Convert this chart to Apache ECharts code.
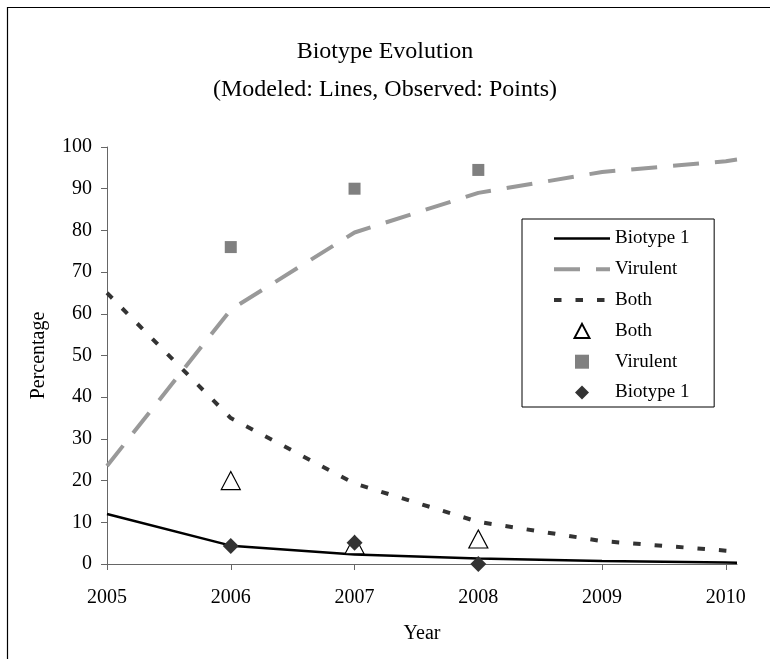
<!DOCTYPE html>
<html>
<head>
<meta charset="utf-8">
<script src="https://cdn.jsdelivr.net/npm/echarts@6/dist/echarts.min.js"></script>
<style>
html,body{margin:0;padding:0;background:#fff;}
#c{width:770px;height:659px;}
</style>
</head>
<body>
<div id="c"></div>
<script>
// Model (lines)
var modelYears = [2005, 2006, 2007, 2008, 2009, 2010, 2010.09];
var modelBiotype1 = [12, 4.4, 2.3, 1.3, 0.7, 0.35, 0.3];
var modelVirulent = [23.5, 61, 79.5, 89, 94, 96.6, 97];
var modelBoth = [65, 35, 19.3, 10.1, 5.5, 3.2, 3];
// Observed (points)
var obsYears = [2006, 2007, 2008];
var obsBoth = [20, 4.6, 6];
var obsVirulent = [76, 90, 94.5];
var obsBiotype1 = [4.3, 5.1, 0];
// Axis ticks
var xTicks = [2005, 2006, 2007, 2008, 2009, 2010];
var yTicks = [0, 10, 20, 30, 40, 50, 60, 70, 80, 90, 100];

function pairs(xs, ys) { return xs.map(function (x, i) { return [x, ys[i]]; }); }

var FONT = '"Liberation Serif", "DejaVu Serif", serif';
var hideSym = { opacity: 0 };
var chart = echarts.init(document.getElementById('c'), null, { renderer: 'canvas' });
chart.setOption({
  animation: false,
  backgroundColor: '#fff',
  graphic: [{
    type: 'polyline',
    shape: { points: [[7.5, 700], [7.5, 7.5], [800, 7.5]] },
    style: { stroke: '#000', lineWidth: 1.2, fill: null }
  }],
  title: {
    text: 'Biotype Evolution\n(Modeled: Lines, Observed: Points)',
    left: 'center',
    top: 28,
    textStyle: { fontFamily: FONT, fontSize: 24, fontWeight: 'normal', color: '#000', lineHeight: 38 }
  },
  legend: {
    orient: 'vertical',
    left: 522,
    top: 219,
    padding: [10, 20, 5, 30],
    itemWidth: 56,
    itemHeight: 14,
    itemGap: 11.8,
    borderColor: '#000',
    borderWidth: 1,
    selectedMode: false,
    symbolKeepAspect: true,
    textStyle: { fontFamily: FONT, fontSize: 19, color: '#000' },
    data: [
      { name: 'Biotype 1', itemStyle: hideSym, lineStyle: { width: 2.5 } },
      { name: 'Virulent', itemStyle: hideSym, lineStyle: { width: 4 } },
      { name: 'Both', itemStyle: hideSym, lineStyle: { width: 4 } },
      { name: 'Both ', icon: 'path://M5,0L10,9.4L0,9.4Z' },
      { name: 'Virulent ', icon: 'path://M0,0H10V10H0Z' },
      { name: 'Biotype 1 ', icon: 'path://M5,0L10,5L5,10L0,5Z' }
    ]
  },
  grid: { left: 107, right: 33, top: 147, bottom: 95 },
  xAxis: {
    type: 'value',
    min: 2005,
    max: 2010.09,
    interval: 1,
    name: 'Year',
    nameLocation: 'middle',
    nameGap: 60,
    nameTextStyle: { fontFamily: FONT, fontSize: 20, color: '#000' },
    axisLine: { lineStyle: { color: '#666', width: 1 } },
    axisTick: { show: true, length: 6, lineStyle: { color: '#666' }, customValues: xTicks },
    axisLabel: { margin: 24, fontFamily: FONT, fontSize: 20, color: '#000', customValues: xTicks,
      formatter: function (v) { return String(Math.round(v)); } },
    splitLine: { show: false }
  },
  yAxis: {
    type: 'value',
    min: 0,
    max: 100,
    interval: 10,
    name: 'Percentage',
    nameLocation: 'middle',
    nameGap: 58,
    nameTextStyle: { fontFamily: FONT, fontSize: 20, color: '#000' },
    axisLine: { show: true, lineStyle: { color: '#666', width: 1 } },
    axisTick: { show: true, length: 6, lineStyle: { color: '#666' } },
    axisLabel: { margin: 15, fontFamily: FONT, fontSize: 20, color: '#000' },
    splitLine: { show: false }
  },
  series: [
    { name: 'Biotype 1', type: 'line', data: pairs(modelYears, modelBiotype1), symbol: 'none', z: 3,
      lineStyle: { color: '#000', width: 2.5, type: 'solid' }, itemStyle: { color: '#000' } },
    { name: 'Virulent', type: 'line', data: pairs(modelYears, modelVirulent), symbol: 'none', z: 2,
      lineStyle: { color: '#999', width: 4, type: [26, 16] }, itemStyle: { color: '#999' } },
    { name: 'Both', type: 'line', data: pairs(modelYears, modelBoth), symbol: 'none', z: 2,
      lineStyle: { color: '#333', width: 4, type: [7.5, 14] }, itemStyle: { color: '#333' } },
    { name: 'Both ', type: 'scatter', data: pairs(obsYears, obsBoth), symbol: 'triangle', symbolSize: [19, 18], z: 4,
      itemStyle: { color: '#fff', borderColor: '#000', borderWidth: 1.2, opacity: 1 } },
    { name: 'Virulent ', type: 'scatter', data: pairs(obsYears, obsVirulent), symbol: 'rect', symbolSize: 12, z: 4,
      itemStyle: { color: '#808080', opacity: 1 } },
    { name: 'Biotype 1 ', type: 'scatter', data: pairs(obsYears, obsBiotype1), symbol: 'diamond', symbolSize: 16, z: 5,
      itemStyle: { color: '#333', opacity: 1 } }
  ]
});
</script>
</body>
</html>
